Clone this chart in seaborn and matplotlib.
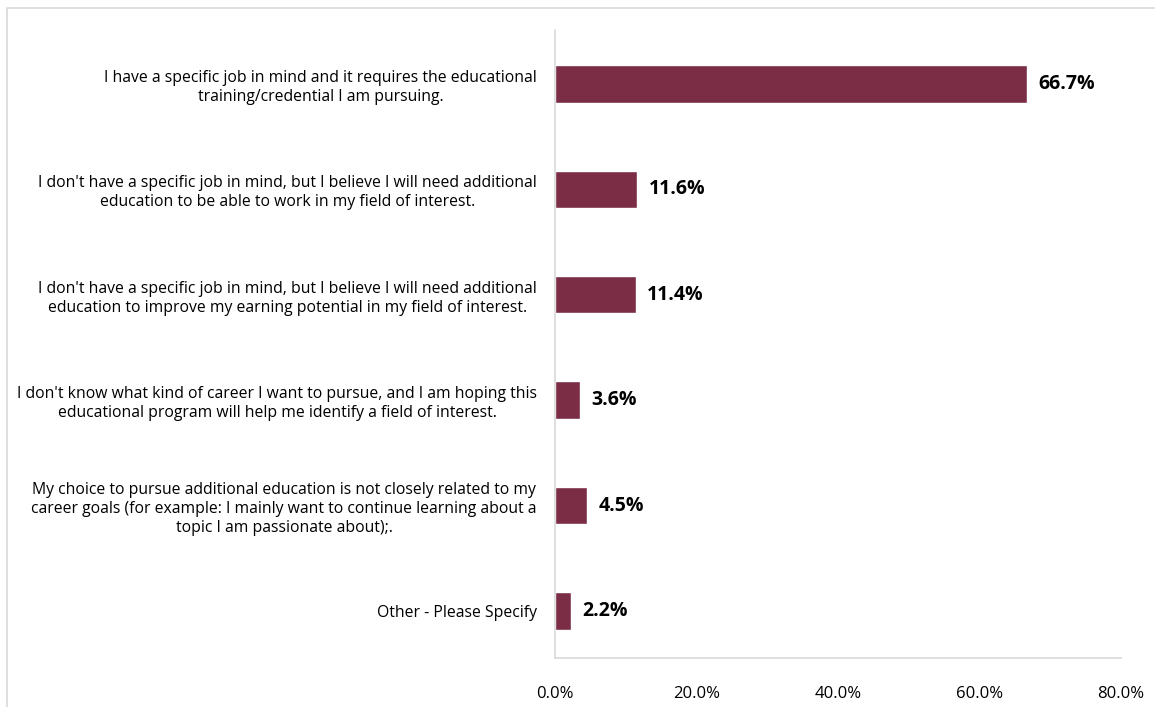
import matplotlib
matplotlib.use("Agg")
import matplotlib.pyplot as plt
import seaborn as sns
import pandas as pd
from matplotlib.patches import Rectangle

categories = [
    "I have a specific job in mind and it requires the educational\ntraining/credential I am pursuing.",
    "I don't have a specific job in mind, but I believe I will need additional\neducation to be able to work in my field of interest.",
    "I don't have a specific job in mind, but I believe I will need additional\neducation to improve my earning potential in my field of interest.",
    "I don't know what kind of career I want to pursue, and I am hoping this\neducational program will help me identify a field of interest.",
    "My choice to pursue additional education is not closely related to my\ncareer goals (for example: I mainly want to continue learning about a\ntopic I am passionate about);.",
    "Other - Please Specify",
]
values = [66.7, 11.6, 11.4, 3.6, 4.5, 2.2]
xticks = [0, 20, 40, 60, 80]

df = pd.DataFrame({"category": categories, "pct": values})

sns.set_style("white")
plt.rcParams["font.family"] = ["Open Sans", "DejaVu Sans"]

fig = plt.figure(figsize=(11.55, 7.07), dpi=100)
ax = fig.add_axes([555 / 1155, 1 - 658 / 707, (1121 - 555) / 1155, (658 - 30) / 707])

sns.barplot(data=df, x="pct", y="category", color="#7B2D45", width=0.355,
            saturation=1, ax=ax)

for i, v in enumerate(values):
    ax.text(v + 1.6, i, f"{v:.1f}%", va="center", ha="left",
            fontsize=14, fontweight="bold", color="black")

ax.set_xlim(0, 80)
ax.set_ylim(5.446, -0.512)
ax.set_xticks(xticks)
ax.set_xticklabels([f"{t:.1f}%" for t in xticks], fontsize=12)
ax.set_yticks(range(len(categories)))
ax.set_yticklabels(categories, fontsize=11.3, multialignment="center",
                   color="black", linespacing=1.25)
ax.tick_params(axis="y", length=0, pad=13)
ax.tick_params(axis="x", length=0, pad=20, colors="black")
ax.set_xlabel("")
ax.set_ylabel("")

for side in ["top", "right"]:
    ax.spines[side].set_visible(False)
for side in ["left", "bottom"]:
    ax.spines[side].set_color("#D9D9D9")
    ax.spines[side].set_linewidth(1.2)

# outer chart border
fig.patches.append(Rectangle((6.5 / 1155, -0.1), 1.05, 1.1 - 8.5 / 707,
                             transform=fig.transFigure, fill=False,
                             edgecolor="#D9D9D9", linewidth=1.2))

fig.savefig("out.png", dpi=100)
